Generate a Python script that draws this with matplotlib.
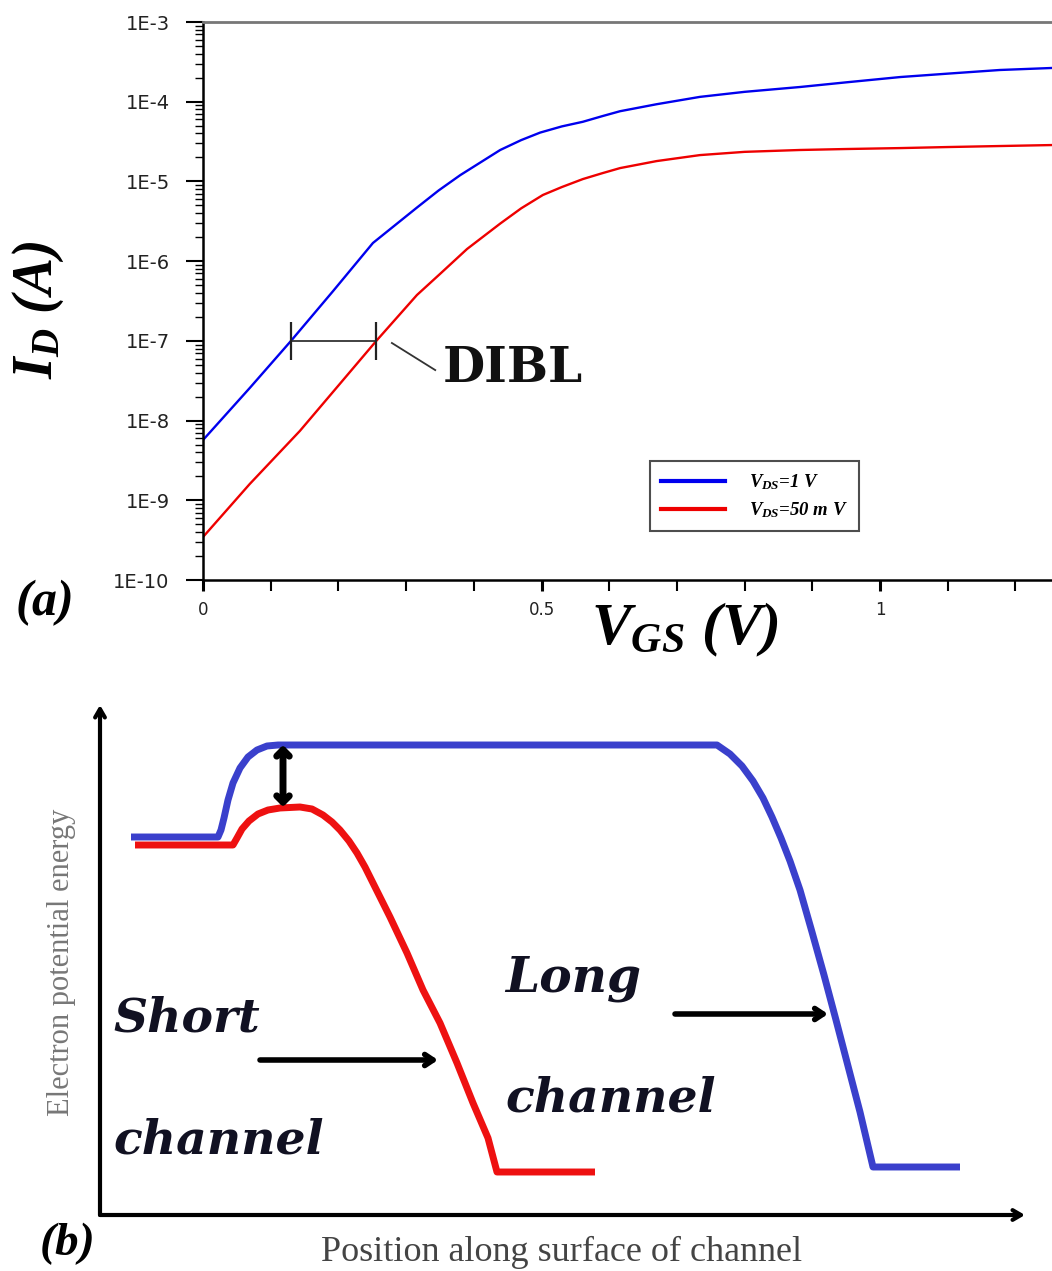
import numpy as np
import matplotlib
matplotlib.use('Agg')
import matplotlib.pyplot as plt
from matplotlib.ticker import FixedLocator, FixedFormatter, LogLocator, NullFormatter, MultipleLocator

plt.rcParams['font.family'] = ['DejaVu Sans']
plt.rcParams['mathtext.fontset'] = 'custom'
plt.rcParams['mathtext.it'] = 'Liberation Serif:italic:bold'
plt.rcParams['mathtext.rm'] = 'Liberation Serif:italic:bold'
plt.rcParams['mathtext.bf'] = 'Liberation Serif:bold'

# ---------------- Panel (a) data ----------------
vgs_blue = [0.000, 0.069, 0.130, 0.192, 0.251, 0.316, 0.348, 0.380, 0.439, 0.470, 0.498,
            0.530, 0.561, 0.590, 0.616, 0.670, 0.734, 0.800, 0.882, 0.950, 1.030, 1.100, 1.177, 1.254]
id_blue = [5.7e-9, 2.56e-8, 1.0e-7, 4.2e-7, 1.69e-6, 4.7e-6, 7.7e-6, 1.2e-5, 2.48e-5, 3.3e-5, 4.1e-5,
           4.9e-5, 5.6e-5, 6.6e-5, 7.6e-5, 9.3e-5, 1.15e-4, 1.33e-4, 1.53e-4, 1.75e-4, 2.04e-4, 2.25e-4, 2.5e-4, 2.65e-4]
vgs_red = [0.000, 0.069, 0.143, 0.200, 0.256, 0.316, 0.350, 0.390, 0.439, 0.470, 0.502, 0.530,
           0.561, 0.590, 0.616, 0.670, 0.734, 0.800, 0.882, 0.950, 1.030, 1.100, 1.177, 1.254]
id_red = [3.46e-10, 1.6e-9, 7.4e-9, 2.75e-8, 1.0e-7, 3.76e-7, 6.9e-7, 1.42e-6, 2.96e-6, 4.6e-6, 6.76e-6, 8.5e-6,
          1.07e-5, 1.27e-5, 1.47e-5, 1.8e-5, 2.14e-5, 2.35e-5, 2.48e-5, 2.55e-5, 2.62e-5, 2.7e-5, 2.78e-5, 2.86e-5]
series_labels = [r'$V_{DS}$=1 V', r'$V_{DS}$=50 m V']

ytick_vals = [1e-10, 1e-9, 1e-8, 1e-7, 1e-6, 1e-5, 1e-4, 1e-3]
ytick_labels = ['1E-10', '1E-9', '1E-8', '1E-7', '1E-6', '1E-5', '1E-4', '1E-3']
xtick_vals = [0, 0.5, 1.0]
xtick_labels = ['0', '0.5', '1']

dibl_v = [0.130, 0.256]
dibl_i = 1e-7
dibl_leader_v = [0.279, 0.343]
dibl_leader_i = [9.4e-8, 4.3e-8]

# ---------------- Panel (b) data (arbitrary units) ----------------
pos_long = [31, 118, 121, 124, 128, 133, 140, 148, 157, 167, 178, 617, 630, 642, 653, 663, 672,
            681, 690, 700, 712, 724, 736, 748, 760, 773, 860]
en_long = [378, 378, 385, 397, 415, 432, 447, 458, 465, 469, 470, 470, 461, 449, 434, 417, 398,
           377, 354, 325, 283, 240, 195, 149, 103, 48, 48]
pos_short = [35, 133, 137, 142, 149, 158, 168, 180, 200, 212, 223, 232, 240, 249, 257, 265, 273,
             281, 290, 307, 323, 340, 357, 373, 388, 397, 495]
en_short = [370, 370, 377, 386, 394, 401, 405, 407, 408, 406, 400, 393, 385, 374, 362, 348, 332,
            316, 298, 262, 225, 192, 152, 112, 77, 43, 43]

W, H = 1052, 1271
def fx(px):
    return px / W
def fy(py):
    return 1 - py / H

fig = plt.figure(figsize=(W / 100, H / 100), dpi=100)

# ================= Panel (a) =================
ax = fig.add_axes([fx(203), fy(580), 1 - fx(203), fy(22) - fy(580)])
ax.set_yscale('log')
ax.plot(vgs_blue, id_blue, color='#0000ee', lw=1.7, label=series_labels[0])
ax.plot(vgs_red, id_red, color='#ee0000', lw=1.7, label=series_labels[1])
ax.set_xlim(0, 1.254)
ax.set_ylim(1e-10, 1e-3)

ax.spines['right'].set_visible(False)
ax.spines['top'].set_color('#777777')
ax.spines['top'].set_linewidth(2)
ax.spines['left'].set_linewidth(1.8)
ax.spines['bottom'].set_linewidth(1.8)

ax.yaxis.set_major_locator(FixedLocator(ytick_vals))
ax.yaxis.set_major_formatter(FixedFormatter(ytick_labels))
ax.yaxis.set_minor_locator(LogLocator(base=10, subs=np.arange(2, 10)))
ax.yaxis.set_minor_formatter(NullFormatter())
ax.tick_params(axis='y', which='major', direction='out', length=12, width=1.5,
               labelsize=14, pad=12, labelcolor='#222222')
ax.tick_params(axis='y', which='minor', direction='out', length=6, width=1.0)

ax.xaxis.set_major_locator(FixedLocator(xtick_vals))
ax.xaxis.set_major_formatter(FixedFormatter(xtick_labels))
ax.xaxis.set_minor_locator(MultipleLocator(0.1))
ax.tick_params(axis='x', which='major', direction='out', length=8, width=2.2,
               labelsize=12, pad=7, labelcolor='#222222')
ax.tick_params(axis='x', which='minor', direction='out', length=8, width=1.5)

# DIBL annotation
ax.plot(dibl_v, [dibl_i, dibl_i], color='#333333', lw=1.3)
ax.plot(dibl_v, [dibl_i, dibl_i], ls='none', marker='|', ms=28, mew=1.6, color='#222222')
ax.plot(dibl_leader_v, dibl_leader_i, color='#333333', lw=1.3)
ax.text(0.3545, 4.56e-8, 'DIBL', fontsize=35, family='DejaVu Serif', weight='bold',
        va='center', ha='left', color='#111111')

leg = ax.legend(loc='center', bbox_to_anchor=(0.6496, 0.1505), frameon=True, fancybox=False,
                prop={'family': 'Liberation Serif', 'style': 'italic', 'weight': 'bold', 'size': 13.5},
                handlelength=3.4, handletextpad=1.3, borderpad=0.6, labelspacing=0.45)
leg.get_frame().set_edgecolor('#222222')
leg.get_frame().set_linewidth(1.5)
for line in leg.get_lines():
    line.set_linewidth(3)

fig.text(fx(38), fy(310), r'$I_D\ (A)$', rotation=90, fontsize=40, ha='center', va='center')
fig.text(fx(685), fy(630), r'$V_{GS}\ (V)$', fontsize=43, ha='center', va='center')
fig.text(fx(44), fy(603), r'$(a)$', fontsize=36, ha='center', va='center')

# ================= Panel (b) =================
ax2 = fig.add_axes([fx(100), fy(1215), fx(1030) - fx(100), fy(700) - fy(1215)])
ax2.set_xlim(0, 930)
ax2.set_ylim(0, 515)
ax2.axis('off')

ax2.annotate('', xy=(0, 510), xytext=(0, 0),
             arrowprops=dict(arrowstyle='->,head_length=0.6,head_width=0.35', lw=3, color='black',
                             shrinkA=0, shrinkB=0))
ax2.annotate('', xy=(925, 0), xytext=(0, 0),
             arrowprops=dict(arrowstyle='->,head_length=0.6,head_width=0.35', lw=3, color='black',
                             shrinkA=0, shrinkB=0))

ax2.plot(pos_long, en_long, color='#3a40cc', lw=5, solid_joinstyle='round', solid_capstyle='butt')
ax2.plot(pos_short, en_short, color='#ee1111', lw=5, solid_joinstyle='round', solid_capstyle='butt')

ax2.annotate('', xy=(183, 470), xytext=(183, 408),
             arrowprops=dict(arrowstyle='<->,head_length=0.45,head_width=0.45', lw=5, color='black',
                             shrinkA=0, shrinkB=0))
ax2.annotate('', xy=(338, 155), xytext=(160, 155),
             arrowprops=dict(arrowstyle='->,head_length=0.6,head_width=0.4', lw=4, color='black',
                             shrinkA=0, shrinkB=0))
ax2.annotate('', xy=(728, 201), xytext=(575, 201),
             arrowprops=dict(arrowstyle='->,head_length=0.6,head_width=0.4', lw=4, color='black',
                             shrinkA=0, shrinkB=0))

tkw = dict(family='DejaVu Serif', style='italic', weight='bold', color='#111122',
           ha='left', va='center')
ax2.text(13, 197, 'Short', fontsize=34, **tkw)
ax2.text(13, 75, 'channel', fontsize=34, **tkw)
ax2.text(405, 237, 'Long', fontsize=35, **tkw)
ax2.text(405, 117, 'channel', fontsize=34, **tkw)

fig.text(fx(62), fy(962), 'Electron potential energy', rotation=90, family='Liberation Serif',
         fontsize=22, color='#777777', ha='center', va='center')
fig.text(fx(562), fy(1252), 'Position along surface of channel', family='Liberation Serif',
         fontsize=26, color='#444444', ha='center', va='center')
fig.text(fx(66), fy(1244), r'$(b)$', fontsize=34, ha='center', va='center')

fig.savefig('out.png', dpi=100)
